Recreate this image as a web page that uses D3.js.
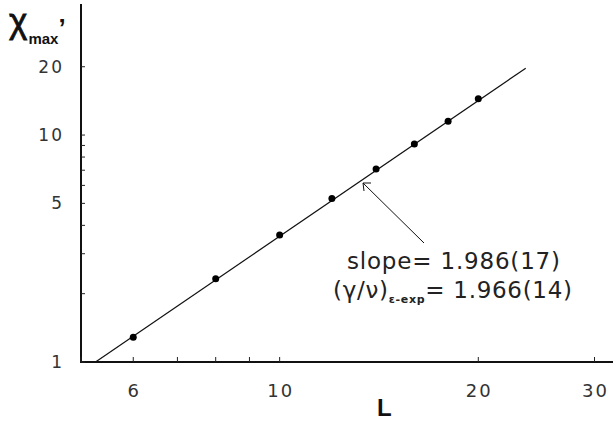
<!DOCTYPE html>
<html>
<head>
<meta charset="utf-8">
<script src="https://cdn.jsdelivr.net/npm/d3@7"></script>
<style>
  body { margin: 0; background: #fff; }
  svg { display: block; }
</style>
</head>
<body>
<div id="plot"></div>
<script>
var outerWidth = 613, outerHeight = 421

// data
var sizes = [6, 8, 10, 12, 14, 16, 18, 20]
var chiMax = [1.285, 2.33, 3.63, 5.26, 7.08, 9.13, 11.49, 14.45]
var fitL = [5.26, 23.6]
var fitChi = [1, 19.7]
var xTicks = [5, 6, 7, 8, 9, 10, 20, 30]
var xTickLabels = [6, 10, 20, 30]
var yTicks = [1, 2, 3, 4, 5, 6, 7, 8, 9, 10, 20]
var yTickLabels = [1, 5, 10, 20]

var font = "'DejaVu Sans', 'Liberation Sans', sans-serif"

var svg = d3.select("#plot").append("svg")
    .attr("width", outerWidth)
    .attr("height", outerHeight)

var xScale = d3.scaleLog().domain([5, 32]).range([81, 613]),
    yScale = d3.scaleLog().domain([1, 37.8]).range([362, 4]);

// axes lines
svg.append("line")
    .attr("x1", xScale(5)).attr("x2", 613)
    .attr("y1", yScale(1)).attr("y2", yScale(1))
    .style("stroke", "#111").style("stroke-width", 2)
svg.append("line")
    .attr("x1", xScale(5)).attr("x2", xScale(5))
    .attr("y1", yScale(1) + 1).attr("y2", 4)
    .style("stroke", "#111").style("stroke-width", 2)

// ticks point inward
svg.selectAll(".xtick").data(xTicks).enter().append("line")
    .attr("x1", function(d){ return xScale(d) })
    .attr("x2", function(d){ return xScale(d) })
    .attr("y1", yScale(1)).attr("y2", yScale(1) - 5)
    .style("stroke", "#222").style("stroke-width", 1)
svg.selectAll(".ytick").data(yTicks).enter().append("line")
    .attr("x1", xScale(5)).attr("x2", xScale(5) + 4)
    .attr("y1", function(d){ return yScale(d) })
    .attr("y2", function(d){ return yScale(d) })
    .style("stroke", "#222").style("stroke-width", 1)

svg.selectAll(".xlab").data(xTickLabels).enter().append("text")
    .attr("x", function(d){ return xScale(d) + 1 })
    .attr("y", 397)
    .attr("text-anchor", "middle")
    .style("font-family", font)
    .style("font-size", "18px").style("letter-spacing", "2px").style("fill", "#333")
    .text(function(d){ return d })

svg.selectAll(".ylab").data(yTickLabels).enter().append("text")
    .attr("x", 64)
    .attr("y", function(d){ return yScale(d) + 6 })
    .attr("text-anchor", "end")
    .style("font-family", font)
    .style("font-size", "17px").style("letter-spacing", "2px").style("fill", "#333")
    .text(function(d){ return d })

// axis titles
svg.append("text")
    .attr("x", 377).attr("y", 416)
    .style("font-family", "'Liberation Sans', sans-serif").style("font-weight", "bold")
    .style("font-size", "24px").style("fill", "#111")
    .text("L")

var ylab = svg.append("text")
    .attr("x", 9).attr("y", 33)
    .style("font-family", "'Liberation Sans', sans-serif").style("fill", "#111")
ylab.append("tspan").style("font-size", "35px")
    .style("stroke", "#111").style("stroke-width", 0.8).text("χ")
ylab.append("tspan").attr("dy", 11).attr("dx", 1).style("font-size", "15px").style("font-weight", "bold").text("max")
ylab.append("tspan").attr("dy", -7).style("font-size", "26px").style("font-weight", "bold").text("’")

// fit line
var fit = fitL.map(function(d, i){ return {L: d, chi: fitChi[i]} })
svg.append("line")
    .attr("x1", xScale(fit[0].L)).attr("y1", yScale(fit[0].chi))
    .attr("x2", xScale(fit[1].L)).attr("y2", yScale(fit[1].chi))
    .style("stroke", "#111").style("stroke-width", 1.2)

// points
svg.selectAll("circle").data(sizes).enter().append("circle")
    .attr("cx", function(d){ return xScale(d) })
    .attr("cy", function(d, i){ return yScale(chiMax[i]) })
    .attr("r", 3.5)
    .style("fill", "#000")

// arrow
svg.append("line")
    .attr("x1", 424).attr("y1", 243)
    .attr("x2", 363).attr("y2", 183)
    .style("stroke", "#111").style("stroke-width", 1)
svg.append("path")
    .attr("d", "M371,183 L363,183 L364,191")
    .style("fill", "none").style("stroke", "#111").style("stroke-width", 1)

// annotation
svg.append("text")
    .attr("x", 347).attr("y", 269)
    .attr("textLength", 213).attr("lengthAdjust", "spacing")
    .style("font-family", font)
    .style("font-size", "23px").style("fill", "#222")
    .text("slope= 1.986(17)")

var ann = svg.append("text")
    .attr("x", 333).attr("y", 298)
    .attr("textLength", 239).attr("lengthAdjust", "spacing")
    .style("font-family", font)
    .style("font-size", "23px").style("fill", "#222")
ann.append("tspan").text("(γ/ν)")
ann.append("tspan").attr("dy", 5).style("font-size", "11px").style("font-weight", "bold").text("ε-exp")
ann.append("tspan").attr("dy", -5).text("= 1.966(14)")
</script>
</body>
</html>
